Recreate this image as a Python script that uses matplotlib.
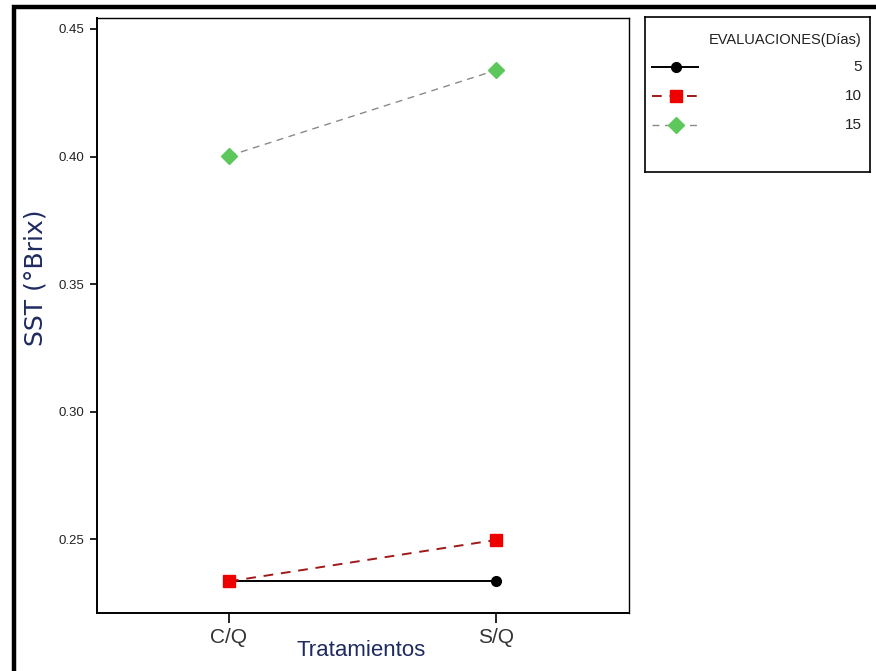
import matplotlib
matplotlib.use("Agg")
import matplotlib.pyplot as plt
from matplotlib.patches import Rectangle
from matplotlib.lines import Line2D

# Data
tratamientos = ["C/Q", "S/Q"]
dias = ["5", "10", "15"]
sst_5 = [0.2335, 0.2335]
sst_10 = [0.2335, 0.2497]
sst_15 = [0.4003, 0.4338]
y_ticks = [0.25, 0.30, 0.35, 0.40, 0.45]
y_ticklabels = ["0.25", "0.30", "0.35", "0.40", "0.45"]

narrow = "Liberation Sans"

W, H = 876, 671
fig = plt.figure(figsize=(W / 100, H / 100), dpi=100)

def fx(px):
    return px / W

def fy(py):
    return 1 - py / H

# Outer frame
fig.patches.append(Rectangle((fx(14), -0.05), 1.2, fy(7) + 0.05, transform=fig.transFigure,
                             fill=False, edgecolor="black", linewidth=3.2, clip_on=False))

ax = fig.add_axes([fx(97), fy(613), fx(629) - fx(97), fy(18) - fy(613)])
x = [1, 2]
series = [
    (sst_5, dict(color="black", linestyle="-", linewidth=1.4, marker="o", markersize=7,
                 markerfacecolor="black", markeredgecolor="black")),
    (sst_10, dict(color="#a01818", linestyle=(0, (5, 4)), linewidth=1.4, marker="s", markersize=9,
                  markerfacecolor="#ee0000", markeredgecolor="#ee0000")),
    (sst_15, dict(color="#8a8a8a", linestyle=(0, (5, 4)), linewidth=1.0, marker="D", markersize=8,
                  markerfacecolor="#5cc85c", markeredgecolor="#5cc85c")),
]
for vals, st in series:
    ax.plot(x, vals, **st)

ax.set_xlim(0.505, 2.5)
ax.set_ylim(0.2211, 0.4543)
ax.set_xticks(x)
ax.set_xticklabels(tratamientos, fontfamily=narrow, fontsize=15, color="#333333")
ax.set_yticks(y_ticks)
ax.set_yticklabels(y_ticklabels, fontfamily=narrow, fontsize=9.5, color="#222222")
ax.tick_params(axis="y", length=5, width=1.2, pad=4)
ax.tick_params(axis="x", length=7, width=1.2, pad=4)
for side in ["top", "right"]:
    ax.spines[side].set_linewidth(1.0)
for side in ["left", "bottom"]:
    ax.spines[side].set_linewidth(1.4)

fig.text(fx(36), fy(278), "SST (°Brix)", rotation=90, ha="center", va="center",
         fontsize=18, color="#1f2a60", family="DejaVu Sans")
fig.text(fx(361), fy(650), "Tratamientos", ha="center", va="center",
         fontsize=16, color="#1f2a60", family=narrow)

# Legend panel
lax = fig.add_axes([fx(645), fy(172), fx(870) - fx(645), fy(17) - fy(172)])
lax.set_xlim(645, 870)
lax.set_ylim(172, 17)
lax.set_xticks([])
lax.set_yticks([])
for s in lax.spines.values():
    s.set_linewidth(1.2)
lax.text(862, 40, "EVALUACIONES(Días)", ha="right", va="center", fontsize=10.5,
         family=narrow, color="#222222")
for (vals, st), lab, yy in zip(series, dias, [67, 96, 125]):
    lax.add_line(Line2D([652, 698], [yy, yy], **{k: v for k, v in st.items() if k != "marker"}))
    lax.plot([676], [yy], linestyle="none", marker=st["marker"], markersize=st["markersize"],
             markerfacecolor=st["markerfacecolor"], markeredgecolor=st["markeredgecolor"])
    lax.text(862, yy, lab, ha="right", va="center", fontsize=11, family=narrow, color="#222222")

fig.savefig("out.png", dpi=100)
